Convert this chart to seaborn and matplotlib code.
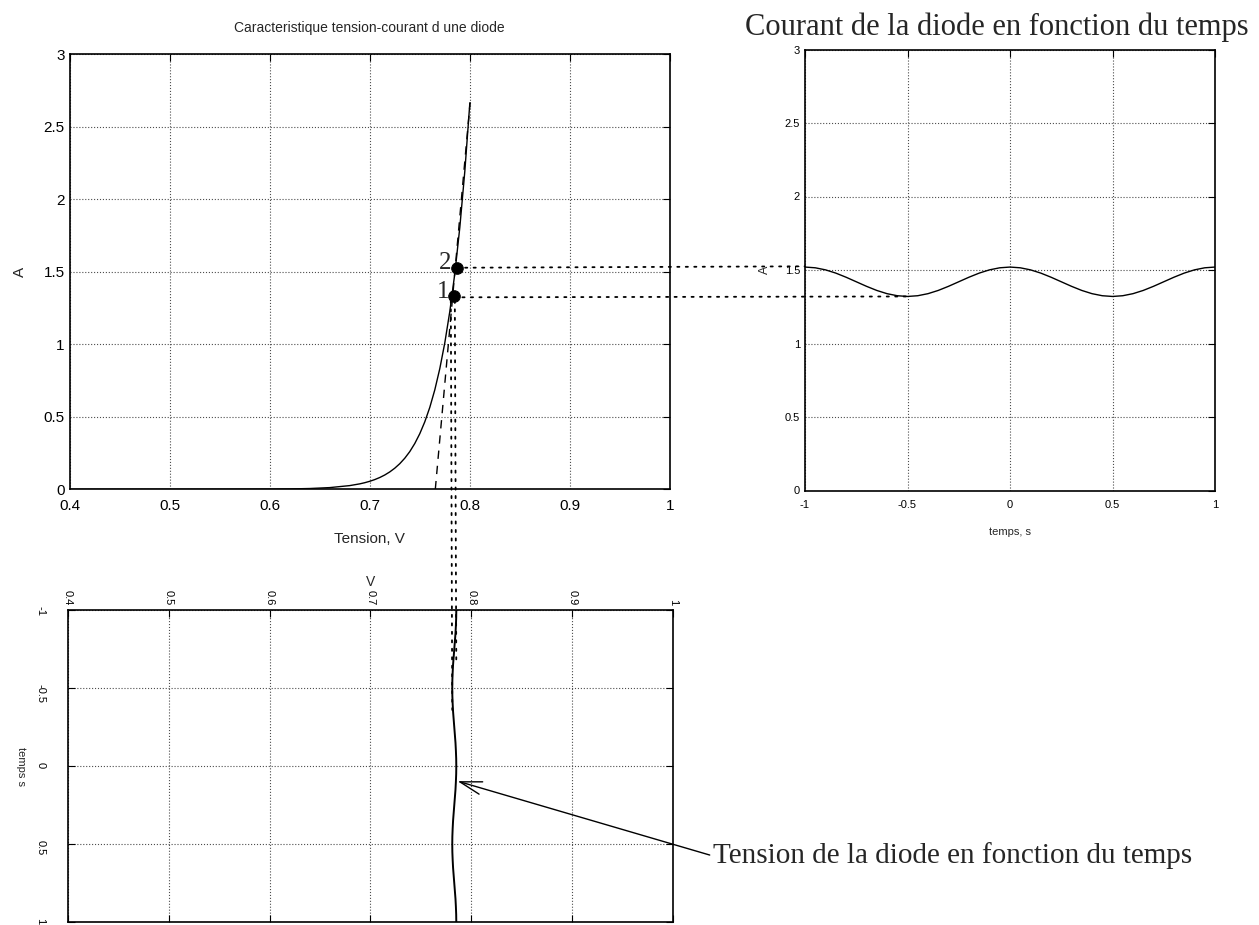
import numpy as np
import pandas as pd
import seaborn as sns
import matplotlib.pyplot as plt
from matplotlib.patches import ConnectionPatch

# caracteristique I(V) de la diode
tension = [0.40, 0.55, 0.60, 0.62, 0.64, 0.66, 0.68, 0.69, 0.695, 0.70, 0.705, 0.71, 0.715,
           0.72, 0.725, 0.73, 0.735, 0.74, 0.745, 0.75, 0.755, 0.76, 0.765, 0.77, 0.775,
           0.78, 0.785, 0.79, 0.795, 0.80]
courant = [0.0, 0.0002, 0.0012, 0.0025, 0.0054, 0.0117, 0.0255, 0.0375, 0.0455, 0.0552, 0.067,
           0.0813, 0.0987, 0.1199, 0.1456, 0.1767, 0.2144, 0.260, 0.3159, 0.3835, 0.4655, 0.565,
           0.686, 0.8325, 1.0105, 1.2267, 1.489, 1.807, 2.194, 2.663]

# droite tangente (pointillés)
tangente_v = [0.7655, 0.8003]
tangente_i = [0.0, 2.67]

# points de fonctionnement 1 et 2
pts_v = [0.7841, 0.7868]
pts_i = [1.333, 1.528]
pts_lab = ['1', '2']

# courant et tension en fonction du temps
temps = [-1.0, -0.95, -0.9, -0.85, -0.8, -0.75, -0.7, -0.65, -0.6, -0.55, -0.5,
         -0.45, -0.4, -0.35, -0.3, -0.25, -0.2, -0.15, -0.1, -0.05, 0.0,
         0.05, 0.1, 0.15, 0.2, 0.25, 0.3, 0.35, 0.4, 0.45, 0.5,
         0.55, 0.6, 0.65, 0.7, 0.75, 0.8, 0.85, 0.9, 0.95, 1.0]
i_down = [1.52, 1.515, 1.501, 1.479, 1.451, 1.42, 1.389, 1.361, 1.339, 1.325, 1.32]
i_up = [1.325, 1.339, 1.361, 1.389, 1.42, 1.451, 1.479, 1.501, 1.515, 1.52]
i_temps = i_down + i_up + i_down[1:] + i_up
v_down = [0.785, 0.7849, 0.7846, 0.7842, 0.7836, 0.783, 0.7824, 0.7818, 0.7814, 0.7811, 0.781]
v_up = [0.7811, 0.7814, 0.7818, 0.7824, 0.783, 0.7836, 0.7842, 0.7846, 0.7849, 0.785]
v_temps = v_down + v_up + v_down[1:] + v_up

xt1 = [0.4, 0.5, 0.6, 0.7, 0.8, 0.9, 1.0]
xt1_lab = ['0.4', '0.5', '0.6', '0.7', '0.8', '0.9', '1']
yt1 = [0, 0.5, 1, 1.5, 2, 2.5, 3]
yt1_lab = ['0', '0.5', '1', '1.5', '2', '2.5', '3']
xt2 = [-1, -0.5, 0, 0.5, 1]
xt2_lab = ['-1', '-0.5', '0', '0.5', '1']

sns.set_style('white')
plt.rcParams['font.family'] = ['Liberation Sans', 'DejaVu Sans']
serif = ['Liberation Serif', 'DejaVu Serif']

fig = plt.figure(figsize=(12.59, 9.25), dpi=100)
W, H = 1259, 925
ax1 = fig.add_axes([69.5 / W, 1 - 489.3 / H, 600.5 / W, 435 / H])
ax2 = fig.add_axes([805 / W, 1 - 490.5 / H, 410 / W, 441 / H])
ax3 = fig.add_axes([67.7 / W, 1 - 922.3 / H, 605.6 / W, 312.3 / H])

grid_kw = dict(color='0.3', linestyle=':', linewidth=0.8)


def style(ax, size):
    ax.grid(True, **grid_kw)
    for s in ax.spines.values():
        s.set_color('black')
        s.set_linewidth(1.2)
        s.set_visible(True)
    ax.tick_params(direction='in', length=5, width=0.8, colors='black',
                   labelsize=size, top=True, right=True)


# --- caracteristique ---
df1 = pd.DataFrame({'V': tension, 'I': courant})
sns.lineplot(data=df1, x='V', y='I', ax=ax1, color='black', lw=1.0, sort=False, estimator=None)
ax1.plot(tangente_v, tangente_i, color='black', lw=1.0, linestyle=(0, (6, 5)))
sns.scatterplot(x=pts_v, y=pts_i, ax=ax1, color='black', s=70, zorder=5, edgecolor='black')
for v, i, lab in zip(pts_v, pts_i, pts_lab):
    ax1.text(v - 0.005, i + 0.03, lab, ha='right', va='center', fontsize=18, family=serif)
ax1.set_xlim(0.4, 1)
ax1.set_ylim(0, 3)
ax1.set_xticks(xt1, xt1_lab)
ax1.set_yticks(yt1, yt1_lab)
style(ax1, 11)
ax1.tick_params(axis='x', pad=7)
ax1.set_xlabel('Tension, V', fontsize=11, labelpad=14)
ax1.set_ylabel('A', fontsize=11, labelpad=12)
ax1.set_title('Caracteristique tension-courant d une diode', fontsize=10, pad=16)

# --- courant en fonction du temps ---
df2 = pd.DataFrame({'t': temps, 'I': i_temps})
sns.lineplot(data=df2, x='t', y='I', ax=ax2, color='black', lw=1.0, sort=False, estimator=None)
ax2.set_xlim(-1, 1)
ax2.set_ylim(0, 3)
ax2.set_xticks(xt2, xt2_lab)
ax2.set_yticks(yt1, yt1_lab)
style(ax2, 8)
ax2.tick_params(axis='x', pad=7)
ax2.set_xlabel('temps, s', fontsize=8, labelpad=12)
ax2.set_ylabel('A', fontsize=9, labelpad=10)
fig.text(997 / W, 1 - 27 / H, 'Courant de la diode en fonction du temps', fontsize=22,
         family=serif, ha='center', va='center')

# --- tension en fonction du temps (graphe tourne) ---
df3 = pd.DataFrame({'V': v_temps, 't': temps})
sns.lineplot(data=df3, x='V', y='t', ax=ax3, color='black', lw=1.4, sort=False, estimator=None)
ax3.set_xlim(0.4, 1)
ax3.set_ylim(1, -1)
ax3.set_xticks(xt1, xt1_lab)
ax3.set_yticks(xt2, xt2_lab)
style(ax3, 8)
ax3.xaxis.tick_top()
ax3.xaxis.set_label_position('top')
ax3.tick_params(top=True, bottom=True, left=True, right=True)
ax3.tick_params(axis='y', pad=16)
for lab in ax3.get_xticklabels() + ax3.get_yticklabels():
    lab.set_rotation(270)
ax3.set_xlabel('V', fontsize=10, labelpad=3)
ax3.set_ylabel('temps s', fontsize=8, rotation=270, labelpad=14)

ax3.annotate('Tension de la diode en fonction du temps', xy=(0.7862, 0.096), xycoords='data',
             xytext=(713 / W, 1 - 856 / H), textcoords='figure fraction',
             ha='left', va='center', fontsize=21, family=serif, annotation_clip=False,
             arrowprops=dict(arrowstyle='->,head_length=0.75,head_width=0.22', lw=1.0,
                             color='black', shrinkA=0, shrinkB=0, relpos=(0, 0.5)))

# --- lignes de report en pointilles ---
dots = dict(linestyle=(0, (1.2, 3.5)), lw=1.3, color='black', zorder=1)
fig.add_artist(ConnectionPatch(xyA=(pts_v[1], 1.528), coordsA=ax1.transData,
                               xyB=(-1, 1.525), coordsB=ax2.transData, **dots))
fig.add_artist(ConnectionPatch(xyA=(pts_v[0], 1.324), coordsA=ax1.transData,
                               xyB=(-0.5, 1.32), coordsB=ax2.transData, **dots))
fig.add_artist(ConnectionPatch(xyA=(0.781, 1.3), coordsA=ax1.transData,
                               xyB=(0.781, -0.36), coordsB=ax3.transData, **dots))
fig.add_artist(ConnectionPatch(xyA=(0.785, 1.3), coordsA=ax1.transData,
                               xyB=(0.785, -0.65), coordsB=ax3.transData, **dots))

fig.savefig('out.png', dpi=100)
